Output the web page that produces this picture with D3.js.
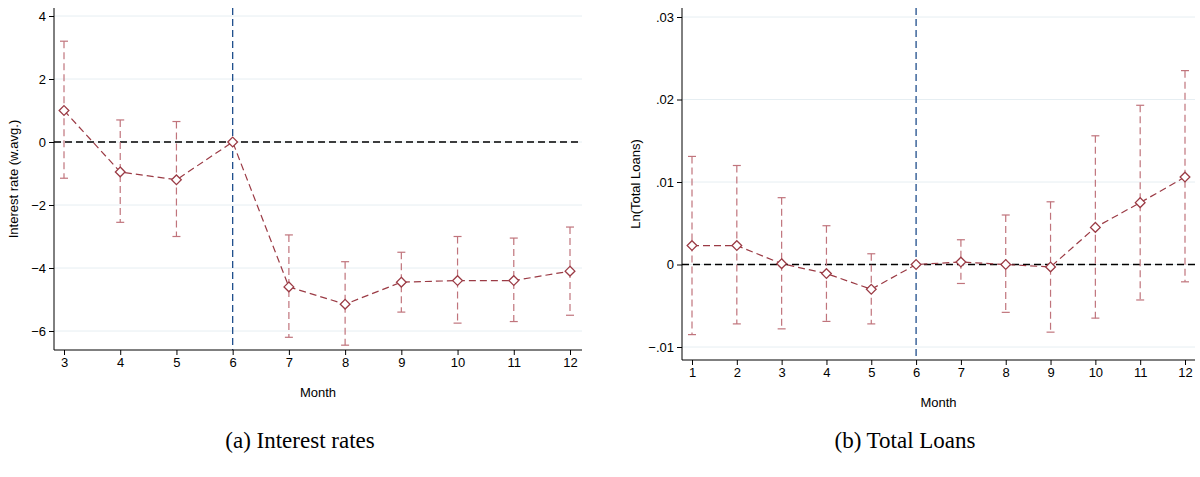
<!DOCTYPE html>
<html><head><meta charset="utf-8">
<script src="https://cdn.jsdelivr.net/npm/d3@7"></script>
<style>body{margin:0;background:#fff}</style>
</head><body><div id="chart"></div>
<script>
// (a) interest rates
const monthsA = [3, 4, 5, 6, 7, 8, 9, 10, 11, 12];
const coefA = [1, -0.95, -1.2, 0, -4.6, -5.15, -4.45, -4.4, -4.4, -4.1];
const hiA = [3.2, 0.7, 0.65, 0, -2.95, -3.8, -3.5, -3.0, -3.05, -2.7];
const loA = [-1.15, -2.55, -3.0, 0, -6.2, -6.45, -5.4, -5.75, -5.7, -5.5];
const yTicksA = [-6, -4, -2, 0, 2, 4];

// (b) total loans
const monthsB = [1, 2, 3, 4, 5, 6, 7, 8, 9, 10, 11, 12];
const coefB = [.0023, .0023, .0001, -.0011, -.003, 0, .0003, 0, -.0003, .0045, .0075, .0106];
const hiB = [.0131, .012, .0081, .0047, .0013, 0, .003, .006, .0076, .0156, .0193, .0235];
const loB = [-.0085, -.0072, -.0078, -.0069, -.0072, 0, -.0023, -.0058, -.0082, -.0065, -.0043, -.0021];
const yTicksB = [-.01, 0, .01, .02, .03];

const svg = d3.select("#chart").append("svg")
  .attr("width", 1200).attr("height", 477)
  .style("font-family", "'Liberation Sans', Arial, sans-serif");

const red = "#9b3b45";

function panel(o) {
  const g = svg.append("g");
  const x = d3.scaleLinear().domain(o.xd).range(o.xr);
  const y = d3.scaleLinear().domain(o.yd).range(o.yr);
  const left = o.axisX, bottom = o.axisY;

  // gridlines
  g.selectAll(".grid").data(o.yTicks).join("line")
    .attr("x1", left).attr("x2", o.right)
    .attr("y1", d => y(d)).attr("y2", d => y(d))
    .attr("stroke", "#e6eef2").attr("stroke-width", 1);

  // zero line and event line
  g.append("line").attr("x1", left).attr("x2", o.right)
    .attr("y1", y(0)).attr("y2", y(0))
    .attr("stroke", "#000").attr("stroke-width", 1.3).attr("stroke-dasharray", "7,4");
  g.append("line").attr("x1", x(6)).attr("x2", x(6))
    .attr("y1", o.top).attr("y2", bottom)
    .attr("stroke", "#1f4e8c").attr("stroke-width", 1.3).attr("stroke-dasharray", "7,4");

  // CIs
  o.months.forEach((m, i) => {
    if (o.hi[i] === o.lo[i]) return;
    g.append("line").attr("x1", x(m)).attr("x2", x(m))
      .attr("y1", y(o.hi[i])).attr("y2", y(o.lo[i]))
      .attr("stroke", "#c0747c").attr("stroke-width", 1.2).attr("stroke-dasharray", "7,4");
    [o.hi[i], o.lo[i]].forEach(v => g.append("line")
      .attr("x1", x(m) - 4).attr("x2", x(m) + 4).attr("y1", y(v)).attr("y2", y(v))
      .attr("stroke", "#c0747c").attr("stroke-width", 1.2));
  });

  // connecting line
  g.append("path").datum(o.months.map((m, i) => [m, o.coef[i]]))
    .attr("fill", "none").attr("stroke", red).attr("stroke-width", 1.2)
    .attr("stroke-dasharray", "7,4")
    .attr("d", d3.line().x(d => x(d[0])).y(d => y(d[1])));

  // diamonds
  g.selectAll(".pt").data(o.months).join("path")
    .attr("transform", (m, i) => `translate(${x(m)},${y(o.coef[i])})`)
    .attr("d", d3.symbol(d3.symbolDiamond2, 60))
    .attr("fill", "#fff").attr("stroke", red).attr("stroke-width", 1.3);

  // axes
  g.append("g").attr("transform", `translate(${left},0)`)
    .call(d3.axisLeft(y).tickValues(o.yTicks).tickSize(5).tickFormat(o.fmt))
    .call(a => a.select(".domain").attr("d", `M0,${o.top}V${bottom}`))
    .selectAll("text").style("font-size", "13px").style("font-family", "'Liberation Sans', Arial, sans-serif");
  g.append("g").attr("transform", `translate(0,${bottom})`)
    .call(d3.axisBottom(x).tickValues(o.months).tickSize(5).tickFormat(d3.format("d")))
    .call(a => a.select(".domain").attr("d", `M${left},0H${o.right}`))
    .selectAll("text").style("font-size", "13px").style("font-family", "'Liberation Sans', Arial, sans-serif");

  g.append("text").attr("x", (left + o.right) / 2).attr("y", bottom + o.mdy)
    .attr("text-anchor", "middle").style("font-size", "13px").text("Month");
  g.append("text").attr("transform", `translate(${o.ylabX},${(o.top + bottom) / 2}) rotate(-90)`)
    .attr("text-anchor", "middle").style("font-size", "13px").text(o.ylab);
  g.append("text").attr("x", o.capX).attr("y", 448)
    .attr("text-anchor", "middle").style("font-family", "'Liberation Serif', serif")
    .style("font-size", "23px").text(o.cap);
}

panel({
  months: monthsA, coef: coefA, hi: hiA, lo: loA, yTicks: yTicksA,
  xd: [3, 12], xr: [64, 570], yd: [-6, 4], yr: [331, 16],
  axisX: 54, axisY: 350, top: 8, right: 582, mdy: 47,
  fmt: d3.format("d"), ylab: "Interest rate (w.avg.)", ylabX: 18,
  cap: "(a) Interest rates", capX: 300
});
panel({
  months: monthsB, coef: coefB, hi: hiB, lo: loB, yTicks: yTicksB,
  xd: [1, 12], xr: [692, 1185], yd: [-.01, .03], yr: [347, 17],
  axisX: 682, axisY: 360, top: 8, right: 1195, mdy: 47,
  fmt: d => d === 0 ? "0" : d3.format(".2f")(d).replace("0.", "."), ylab: "Ln(Total Loans)", ylabX: 640,
  cap: "(b) Total Loans", capX: 905
});
</script></body></html>
